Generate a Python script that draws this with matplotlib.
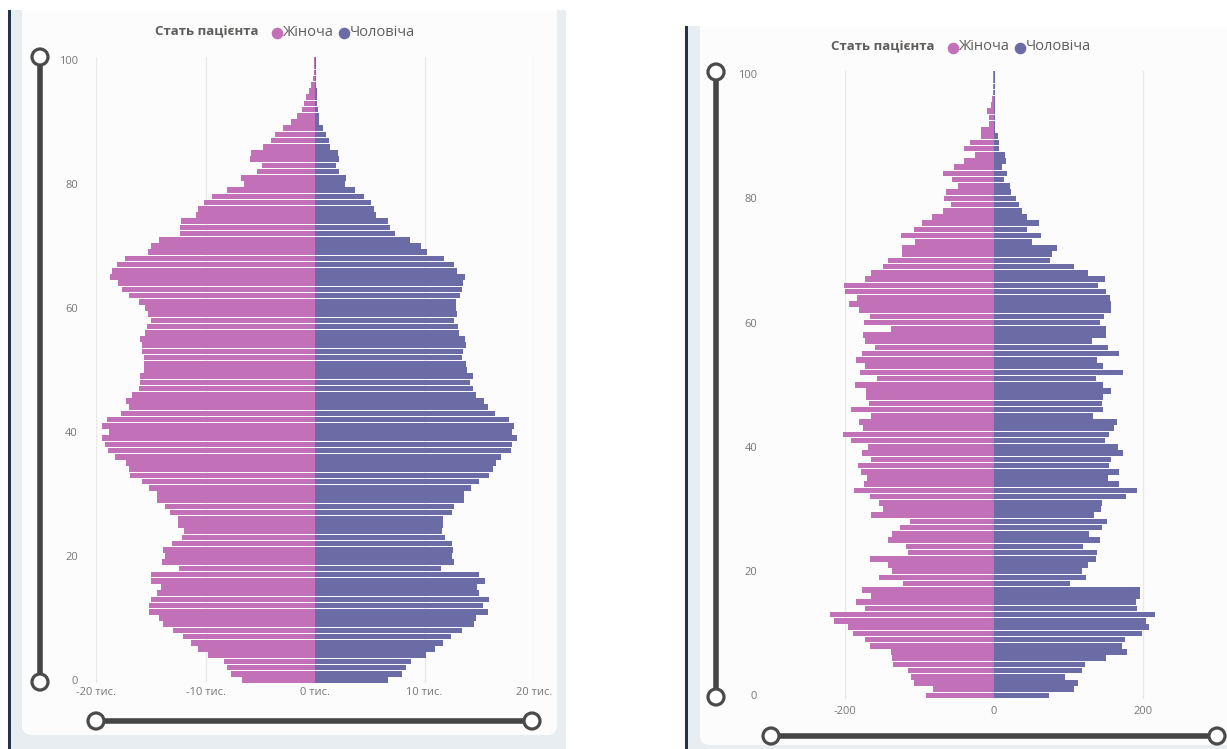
import numpy as np
import matplotlib.pyplot as plt
from matplotlib.patches import FancyBboxPatch, Rectangle, Circle
from matplotlib.ticker import FuncFormatter

plt.rcParams['font.family'] = ['Open Sans', 'DejaVu Sans']

# ages 0..100
ages = np.arange(0, 101)

# left chart (thousands of patients), listed from age 0 up to age 100
female_left = [
    6.69, 7.70, 8.07, 8.35, 9.80, 10.67, 11.32, 12.04, 12.95, 13.85,
    14.29, 15.12, 15.12, 15.01, 14.47, 14.10, 14.94, 14.94, 12.41, 13.96,
    13.74, 13.85, 13.02, 12.15, 11.97, 12.51, 12.51, 13.24, 13.67, 14.47,
    14.47, 15.19, 15.77, 16.93, 17.03, 17.29, 18.30, 18.92, 19.20, 19.46,
    18.84, 19.42, 18.99, 17.72, 17.00, 17.25, 16.74, 16.09, 15.95, 16.02,
    15.66, 15.66, 15.59, 15.77, 15.84, 15.95, 15.48, 15.37, 14.94, 15.23,
    15.48, 16.09, 17.00, 17.65, 18.01, 18.73, 18.55, 18.08, 17.36, 15.23,
    15.01, 14.21, 12.33, 12.33, 12.22, 10.85, 10.71, 10.16, 9.44, 8.03,
    6.44, 6.76, 5.28, 4.81, 5.90, 5.82, 4.77, 4.01, 3.62, 2.89,
    2.17, 1.63, 1.19, 1.01, 0.83, 0.54, 0.36, 0.18, 0.10, 0.08,
    0.05,
]
male_left = [
    6.69, 7.92, 8.28, 8.75, 10.13, 10.92, 11.72, 12.44, 13.45, 14.54,
    14.72, 15.80, 15.37, 15.88, 14.97, 14.83, 15.52, 15.01, 11.54, 12.66,
    12.55, 12.62, 12.48, 11.90, 11.57, 11.65, 11.65, 12.55, 12.73, 13.63,
    13.63, 14.29, 15.01, 15.88, 16.27, 16.53, 16.96, 17.87, 17.97, 18.44,
    17.97, 18.19, 17.72, 16.46, 15.80, 15.44, 14.72, 14.43, 14.18, 14.43,
    13.92, 13.82, 13.38, 13.53, 13.82, 13.71, 13.16, 13.09, 12.73, 12.98,
    12.84, 12.84, 13.27, 13.38, 13.56, 13.74, 12.98, 12.73, 11.75, 10.20,
    9.66, 8.68, 7.31, 6.87, 6.69, 5.61, 5.39, 5.14, 4.48, 3.69,
    2.78, 2.86, 2.17, 1.88, 2.17, 2.06, 1.41, 1.27, 1.05, 0.72,
    0.40, 0.33, 0.25, 0.18, 0.18, 0.14, 0.13, 0.11, 0.10, 0.07,
    0.05,
]

# right chart (patients), age 0 up to age 100
female_right = [
    92, 82, 107, 111, 116, 136, 137, 138, 167, 173,
    190, 196, 215, 221, 174, 186, 165, 177, 122, 155,
    137, 142, 167, 116, 118, 142, 137, 126, 113, 165,
    149, 155, 167, 188, 175, 171, 179, 183, 166, 178,
    170, 193, 203, 176, 181, 166, 192, 168, 172, 172,
    187, 158, 180, 174, 186, 177, 160, 174, 176, 138,
    175, 167, 182, 195, 184, 201, 202, 174, 165, 149,
    143, 124, 124, 106, 125, 108, 97, 84, 68, 58,
    67, 65, 49, 57, 68, 54, 41, 25, 40, 32,
    17, 17, 7, 7, 9, 4, 3, 2, 2, 2,
    2,
]
male_right = [
    74, 108, 113, 96, 119, 122, 150, 179, 172, 176,
    199, 208, 204, 217, 192, 191, 197, 197, 102, 124,
    118, 126, 137, 138, 120, 143, 128, 145, 152, 134,
    144, 145, 177, 193, 168, 154, 168, 155, 158, 174,
    167, 149, 155, 162, 165, 133, 146, 145, 146, 158,
    147, 137, 173, 147, 138, 168, 154, 132, 151, 150,
    142, 148, 157, 157, 156, 150, 140, 149, 126, 107,
    76, 78, 85, 51, 63, 45, 61, 45, 37, 33,
    29, 23, 21, 14, 18, 11, 16, 15, 7, 7,
    5, 2, 2, 1, 1, 1, 1, 1, 1, 1,
    1,
]

legend_title = 'Стать пацієнта'
series_names = ['Жіноча', 'Чоловіча']
c_female = '#c271b9'
c_male = '#6b6ba6'

W, H = 1227, 749
fig = plt.figure(figsize=(W / 100, H / 100), dpi=100)
fig.patch.set_facecolor('white')

bg = fig.add_axes([0, 0, 1, 1])
bg.set_xlim(0, W)
bg.set_ylim(H, 0)
bg.axis('off')


def px_axes(x0, y0, x1, y1):
    return fig.add_axes([x0 / W, 1 - y1 / H, (x1 - x0) / W, (y1 - y0) / H])


def panel(x_dark, y_top, x_card0, x_card1, y_card1, x_gray1):
    bg.add_patch(Rectangle((x_dark, y_top), 3, H - y_top, color='#253348', lw=0))
    bg.add_patch(Rectangle((x_dark + 3, y_top), x_gray1 - x_dark - 3, H - y_top,
                           color='#e8edf1', lw=0))
    bg.add_patch(FancyBboxPatch((x_card0, y_top), x_card1 - x_card0,
                                y_card1 - y_top,
                                boxstyle='round,pad=0,rounding_size=10',
                                fc='#fcfcfc', ec='none'))
    bg.add_patch(Rectangle((x_card0, y_top), x_card1 - x_card0, 20,
                           fc='#fcfcfc', ec='none'))


def slider(xa, ya, xb, yb):
    bg.plot([xa, xb], [ya, yb], color='#454545', lw=4, solid_capstyle='butt', zorder=3)
    for (cx, cy) in [(xa, ya), (xb, yb)]:
        bg.add_patch(Circle((cx, cy), 8, fc='white', ec='#4a4a4a', lw=2.3, zorder=4))


def legend(x, y):
    t = bg.text(x, y, legend_title, fontsize=9.5, fontweight='bold', color='#605e5c',
                va='center', ha='left')
    fig.canvas.draw()
    bb = t.get_window_extent()
    xx = x + bb.width + 18
    for name, col in zip(series_names, [c_female, c_male]):
        bg.scatter([xx], [y + 0.5], s=70, color=col, zorder=5, lw=0)
        t2 = bg.text(xx + 6, y, name, fontsize=10.5, color='#605e5c', va='center', ha='left')
        fig.canvas.draw()
        xx += 6 + t2.get_window_extent().width + 10


def pyramid(ax, fem, mal, xmax, ticks, fmt, ypad, xpad):
    ax.barh(ages, -np.array(fem), height=0.9, color=c_female, lw=0, zorder=2)
    ax.barh(ages, np.array(mal), height=0.9, color=c_male, lw=0, zorder=2)
    ax.set_xlim(-xmax, xmax)
    ax.set_ylim(-0.5, 100.5)
    ax.set_xticks(ticks)
    ax.xaxis.set_major_formatter(FuncFormatter(fmt))
    ax.set_yticks([0, 20, 40, 60, 80, 100])
    ax.tick_params(length=0, labelsize=8, labelcolor='#777777')
    ax.tick_params(axis='y', pad=ypad)
    ax.tick_params(axis='x', pad=xpad)
    ax.grid(axis='x', color='#e9e9e9', lw=1, zorder=0)
    ax.set_axisbelow(True)
    for s in ax.spines.values():
        s.set_visible(False)
    ax.patch.set_alpha(0)


# left panel
panel(8, 10, 22, 557, 735, 566)
axl = px_axes(96, 56.9, 534, 683.1)
pyramid(axl, female_left, male_left, 20, [-20, -10, 0, 10, 20],
        lambda v, p: f'{int(v)} тис.', ypad=13, xpad=3)
slider(40, 57, 40, 682)
slider(96, 721, 532, 721)
legend(155, 32)

# right panel
panel(685, 26, 700, 1260, 745, 1227)
axr = px_axes(771, 70.9, 1217, 698.6)
pyramid(axr, female_right, male_right, 300, [-200, 0, 200],
        lambda v, p: f'{int(v)}', ypad=10, xpad=5)
slider(716, 72, 716, 697)
slider(771, 736, 1217, 736)
legend(831, 47)

fig.savefig('out.png', dpi=100, facecolor='white')
